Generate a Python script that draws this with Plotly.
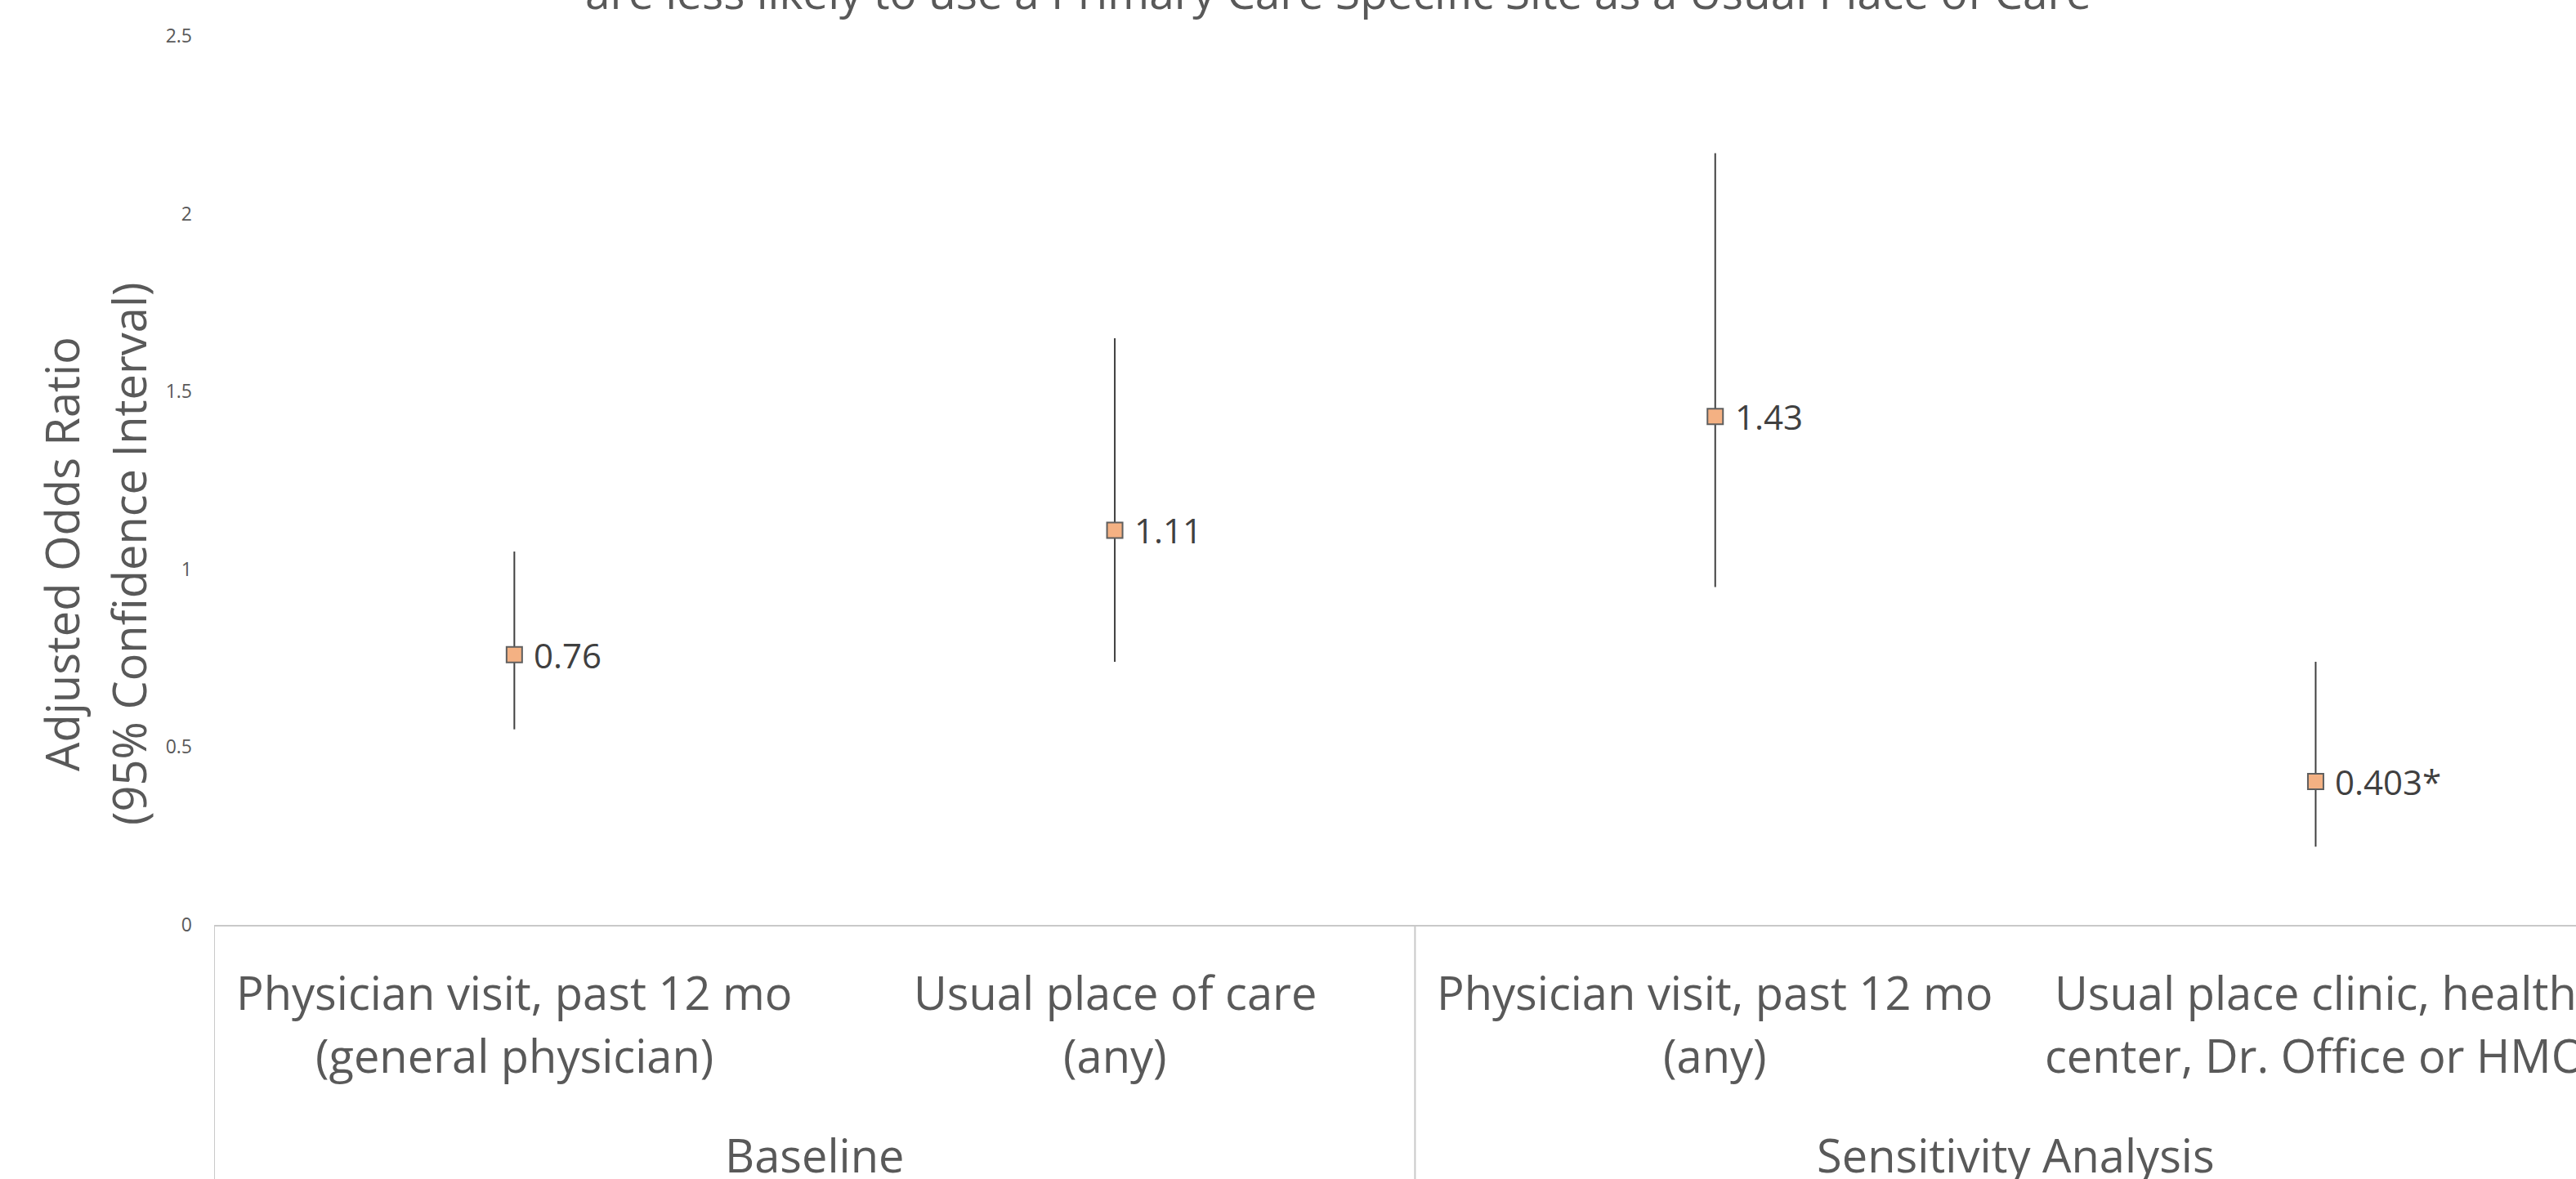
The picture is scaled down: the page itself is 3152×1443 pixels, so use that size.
import plotly.graph_objects as go

# ---- data ----
categories = [
    "Physician visit, past 12 mo<br>(general physician)",
    "Usual place of care<br>(any)",
    "Physician visit, past 12 mo<br>(any)",
    "Usual place clinic, health<br>center, Dr. Office or HMO",
]
groups = ["Baseline", "Sensitivity Analysis"]
group_centers = [0.5, 2.5]
group_boundaries = [-0.5, 1.5]
odds_ratio = [0.76, 1.11, 1.43, 0.403]
ci_lower = [0.55, 0.74, 0.95, 0.22]
ci_upper = [1.05, 1.65, 2.17, 0.74]
point_labels = ["0.76", "1.11", "1.43", "0.403*"]
y_ticks = [0, 0.5, 1, 1.5, 2, 2.5]
y_ticktext = ["0", "0.5", "1", "1.5", "2", "2.5"]
title_line = "are less likely to use a Primary Care Specific Site as a Usual Place of Care"
y_title_lines = ["Adjusted Odds Ratio", "(95% Confidence Interval)"]

FONT = "Open Sans"
GREY = "#595959"
DARK = "#404040"

W, H = 3152, 1443
ML, MT, MB = 262, 44, 311
plot_h = H - MT - MB
plot_w = W - ML

def py(px):
    """convert pixel row to paper y"""
    return (H - MB - px) / plot_h

x_pos = list(range(len(categories)))

fig = go.Figure()
fig.add_trace(go.Scatter(
    x=x_pos, y=odds_ratio, mode="markers",
    marker=dict(symbol="square", size=19, color="#F4B183",
                line=dict(color="#5f5f5f", width=2)),
    error_y=dict(type="data", symmetric=False,
                 array=[u - v for u, v in zip(ci_upper, odds_ratio)],
                 arrayminus=[v - l for v, l in zip(odds_ratio, ci_lower)],
                 color=DARK, thickness=2, width=0),
    showlegend=False, hoverinfo="skip",
))

ann = []
for xi, v, t in zip(x_pos, odds_ratio, point_labels):
    ann.append(dict(x=xi, y=v, xref="x", yref="y", text=t, showarrow=False,
                    xanchor="left", yanchor="middle", xshift=22,
                    font=dict(family=FONT, size=42, color=DARK)))

for xi, lab in zip(x_pos, categories):
    for li, line in enumerate(lab.split("<br>")):
        ann.append(dict(x=xi, y=py(1214 + 77 * li), xref="x", yref="paper",
                        text=line, showarrow=False, xanchor="center", yanchor="middle",
                        font=dict(family=FONT, size=56, color=GREY)))

for gx, g in zip(group_centers, groups):
    ann.append(dict(x=gx, y=py(1413), xref="x", yref="paper", text=g,
                    showarrow=False, xanchor="center", yanchor="middle",
                    font=dict(family=FONT, size=56, color=GREY)))

for li, line in enumerate(y_title_lines):
    ann.append(dict(x=0, y=py(678), xref="paper", yref="paper", text=line,
                    textangle=-90, showarrow=False, xanchor="center", yanchor="middle",
                    xshift=(75 + 82 * li) - ML,
                    font=dict(family=FONT, size=56, color=GREY)))

ann.append(dict(x=(1637 - ML) / plot_w, y=py(-11), xref="paper", yref="paper",
                text=title_line, showarrow=False, xanchor="center", yanchor="middle",
                font=dict(family=FONT, size=55, color=GREY)))

shapes = []
for b in group_boundaries:
    shapes.append(dict(type="line", xref="x", yref="paper", x0=b, x1=b,
                       y0=0, y1=py(H + 5), line=dict(color="#C9C9C9", width=2)))

fig.update_layout(
    width=W, height=H,
    margin=dict(l=ML, r=0, t=MT, b=MB, pad=0),
    paper_bgcolor="white", plot_bgcolor="white",
    xaxis=dict(range=[-0.5, -0.5 + plot_w / 734.7], showgrid=False, zeroline=False,
               showticklabels=False, ticks="", showline=True,
               linecolor="#C9C9C9", linewidth=2, fixedrange=True),
    yaxis=dict(range=[0, 2.5], tickvals=y_ticks, ticktext=y_ticktext,
               showgrid=False, zeroline=False, showline=False, ticks="",
               ticklabelstandoff=26,
               tickfont=dict(family=FONT, size=23, color=GREY), fixedrange=True),
    annotations=ann, shapes=shapes,
    font=dict(family=FONT, color=GREY),
)

fig.write_html("out.html")
